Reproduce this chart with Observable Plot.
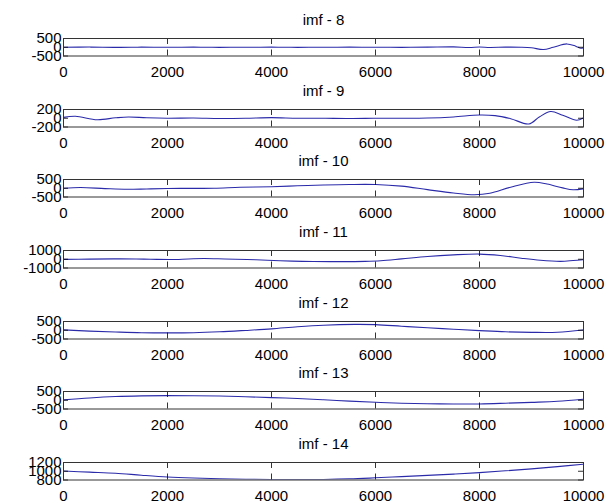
<!DOCTYPE html>
<html>
<head>
<meta charset="utf-8">
<script src="https://cdn.jsdelivr.net/npm/d3@7"></script>
<script src="https://cdn.jsdelivr.net/npm/@observablehq/plot@0.6"></script>
<style>
  html, body { margin: 0; padding: 0; background: #fff; }
  #chart { position: relative; width: 612px; height: 503px; overflow: hidden; background: #fff; }
  #chart svg { position: absolute; left: 0; }
</style>
</head>
<body>
<div id="chart"></div>
<script>
// ---- data ----
const titles = ["imf - 8", "imf - 9", "imf - 10", "imf - 11", "imf - 12", "imf - 13", "imf - 14"];
const xTicks = [0, 2000, 4000, 6000, 8000, 10000];
const xDomain = [0, 10000];

const yTicks8 = [-500, 0, 500];
const yTicks9 = [-200, 0, 200];
const yTicks10 = [-500, 0, 500];
const yTicks11 = [-1000, 0, 1000];
const yTicks12 = [-500, 0, 500];
const yTicks13 = [-500, 0, 500];
const yTicks14 = [800, 1000, 1200];

const imf8 = [[0,0],[500,10],[1000,-5],[1500,5],[2000,0],[2500,5],[3000,-5],[3500,0],[4000,5],[4500,-5],[5000,0],[5500,5],[6000,0],[6500,-5],[7000,5],[7500,20],[7800,-15],[8000,10],[8200,-10],[8500,5],[8800,0],[9000,-30],[9230,-130],[9420,0],[9680,190],[9850,60],[9950,-60],[10000,-30]];
const imf9 = [[0,20],[230,45],[650,-35],[1000,10],[1250,30],[1600,10],[2000,0],[2500,5],[3000,-5],[3500,0],[4000,15],[4500,0],[5000,0],[5500,-5],[6000,0],[6500,0],[7000,5],[7500,30],[8000,75],[8300,60],[8600,-10],[8950,-130],[9150,30],[9370,155],[9600,70],[9870,-45],[10000,10]];
const imf10 = [[0,0],[330,40],[800,-20],[1225,-60],[1600,-40],[2000,-15],[2500,-5],[2900,0],[3400,55],[4000,90],[4500,140],[5000,185],[5500,215],[6000,215],[6500,120],[7000,-80],[7500,-270],[7900,-370],[8200,-290],[8600,60],[9050,340],[9300,240],[9600,20],[9800,-85],[10000,-30]];
const imf11 = [[0,-10],[500,10],[960,40],[1400,20],[1670,0],[2060,-30],[2400,30],[2700,80],[3100,30],[3530,-30],[3920,-110],[4400,-210],[4800,-260],[5300,-270],[5800,-240],[6100,-170],[6500,40],[7000,320],[7500,500],[8000,590],[8400,430],[8800,120],[9170,-120],[9560,-240],[9800,-150],[10000,-50]];
const imf12 = [[0,20],[500,-50],[1000,-100],[1500,-140],[2000,-150],[2500,-140],[3000,-90],[3500,-10],[4000,80],[4500,200],[5000,290],[5600,335],[6000,320],[6500,230],[7000,140],[7500,60],[8000,-20],[8500,-90],[9000,-120],[9500,-115],[10000,20]];
const imf13 = [[0,20],[500,130],[1000,210],[1500,250],[2000,265],[2500,260],[3000,240],[3500,200],[4000,150],[4500,100],[5000,30],[5500,-50],[6000,-115],[6500,-170],[7000,-200],[7500,-215],[8000,-210],[8500,-170],[9000,-120],[9500,-60],[10000,60]];
const imf14 = [[0,1005],[500,980],[1000,955],[1500,910],[2000,870],[2500,845],[3000,828],[3500,818],[4000,812],[4500,808],[5000,812],[5500,825],[6000,850],[6500,878],[7000,905],[7500,935],[8000,968],[8500,1010],[9000,1055],[9500,1105],[10000,1162]];

const series = [imf8, imf9, imf10, imf11, imf12, imf13, imf14];
const yTickSets = [yTicks8, yTicks9, yTicks10, yTicks11, yTicks12, yTicks13, yTicks14];

// ---- layout ----
const W = 612, H = 70;
const mL = 63, mR = 29, mT = 22, panelH = 17.5;
const firstTop = 38, step = 70.67;
const font = "'Liberation Sans', Arial, Helvetica, sans-serif";
const lineColor = "#2b2baa";

const chart = document.getElementById("chart");
const innerW = W - mL - mR;

series.forEach((data, i) => {
  const yt = yTickSets[i];
  const svg = Plot.plot({
    width: W,
    height: H,
    marginLeft: mL,
    marginRight: mR,
    marginTop: mT,
    marginBottom: H - mT - panelH,
    style: { fontFamily: font, fontSize: "15px", color: "#000", background: "transparent", overflow: "visible" },
    x: { domain: xDomain, axis: null },
    y: { domain: [yt[0], yt[2]], axis: null },
    marks: [
      Plot.line(data, { x: d => d[0], y: d => d[1], stroke: lineColor, strokeWidth: 1.1, curve: "catmull-rom", clip: true }),
      Plot.ruleX(xTicks, { stroke: "#000", strokeWidth: 0.8, insetBottom: panelH - 6 }),
      Plot.ruleX(xTicks, { stroke: "#000", strokeWidth: 0.8, insetTop: panelH - 6 }),
      Plot.ruleY(yt, { stroke: "#000", strokeWidth: 0.8, insetRight: innerW - 5 }),
      Plot.ruleY(yt, { stroke: "#000", strokeWidth: 0.8, insetLeft: innerW - 5 }),
      Plot.frame({ stroke: "#333", strokeWidth: 1 }),
      Plot.axisX({ ticks: xTicks, tickSize: 0, tickPadding: 10, fontSize: 15, tickFormat: d => String(d), fill: "#000" }),
      Plot.axisY({ ticks: yt, tickSize: 0, tickPadding: 2, fontSize: 15, tickFormat: d => String(d), fill: "#000" }),
      Plot.text([titles[i]], { frameAnchor: "top", dy: -18, lineAnchor: "middle", fontSize: 15, fill: "#000" })
    ]
  });
  svg.style.top = (Math.round(firstTop + i * step) - mT) + "px";
  chart.appendChild(svg);
});
</script>
</body>
</html>
